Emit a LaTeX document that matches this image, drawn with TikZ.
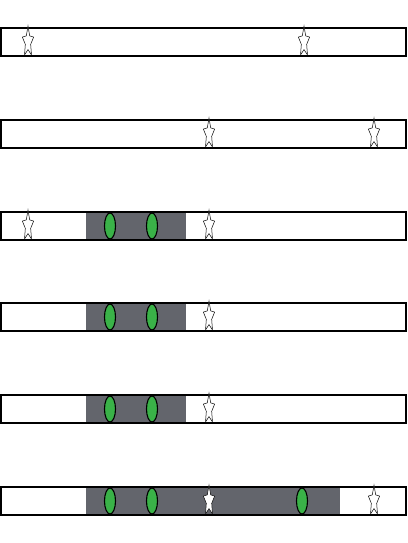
\documentclass[tikz,border=0pt]{standalone}
\usetikzlibrary{shapes.geometric}
\definecolor{bandgray}{RGB}{99,101,108}
\definecolor{beadgreen}{RGB}{58,178,72}
\begin{document}
\begin{tikzpicture}[x=1pt,y=-1pt,
    strip/.style={draw,line width=1.6pt,minimum width=405pt,minimum height=28pt,inner sep=0pt},
    bead/.style={ellipse,draw,line width=1.1pt,fill=beadgreen,minimum width=11pt,minimum height=26pt,inner sep=0pt},
    site/.style={star,star points=5,star point ratio=2.1,draw,line width=0.5pt,fill=white,minimum size=32pt,inner sep=0pt,xscale=0.37}]
  \useasboundingbox (0,0) rectangle (407,543);
  % shaded stretches
  \foreach \y in {226,317,409}{
    \fill[bandgray] (86,\y-14) rectangle (186,\y+14);}
  \fill[bandgray] (86,487) rectangle (340,515);
  % strips
  \foreach \y [count=\i] in {42,134,226,317,409,501}{
    \node[strip] (bar\i) at (203.5,\y) {};}
  % beads
  \foreach \i in {3,4,5,6}{
    \node[bead] (b\i a) at (110,0 |- bar\i) {};
    \node[bead] (b\i b) at (152,0 |- bar\i) {};}
  \node[bead] (b6c) at (302,0 |- bar6) {};
  % sites
  \node[site] (s1a) at (28,0 |- bar1) {};
  \node[site] (s1b) at (304,0 |- bar1) {};
  \node[site] (s2a) at (209,0 |- bar2) {};
  \node[site] (s2b) at (374,0 |- bar2) {};
  \node[site] (s3a) at (28,0 |- bar3) {};
  \node[site] (s3b) at (209,0 |- bar3) {};
  \node[site] (s4a) at (209,0 |- bar4) {};
  \node[site] (s5a) at (209,0 |- bar5) {};
  \node[site] (s6a) at (209,0 |- bar6) {};
  \node[site] (s6b) at (374,0 |- bar6) {};
\end{tikzpicture}
\end{document}
